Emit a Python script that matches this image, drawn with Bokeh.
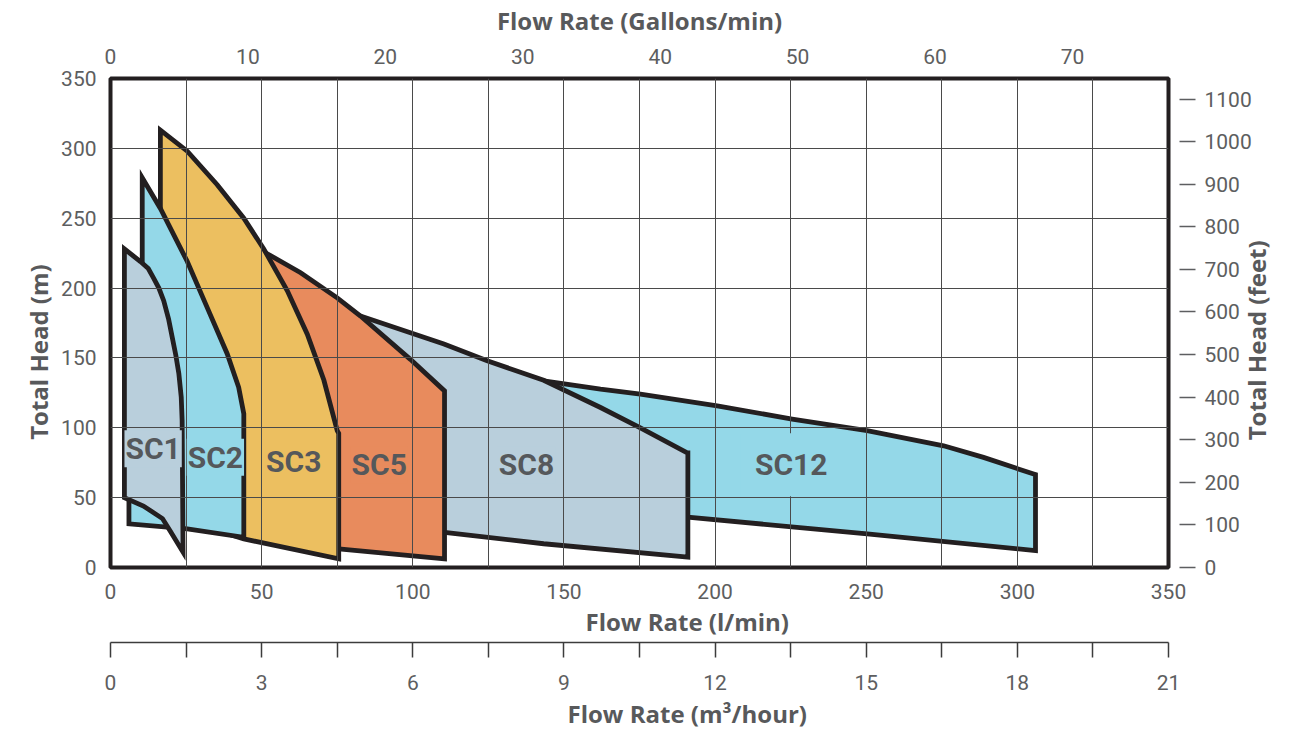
import math
from bokeh.plotting import figure
from bokeh.models import Range1d, LinearAxis, FixedTicker, Title, Label
from bokeh.embed import file_html
from bokeh.resources import INLINE

# ---------------- data ----------------
flow_ticks = [0, 50, 100, 150, 200, 250, 300, 350]
flow_minor = [25, 75, 125, 175, 225, 275, 325]
head_ticks = [0, 50, 100, 150, 200, 250, 300, 350]
gallon_ticks = [0, 10, 20, 30, 40, 50, 60, 70]
feet_ticks = [0, 100, 200, 300, 400, 500, 600, 700, 800, 900, 1000, 1100]
m3_ticks = [0, 3, 6, 9, 12, 15, 18, 21]
m3_minor = [1.5, 4.5, 7.5, 10.5, 13.5, 16.5, 19.5]

# pump envelopes, flow in l/min, head in m (drawn back to front)
sc12_flow = [143.3, 162.1, 175.3, 200.7, 225.5, 250.3, 275.6, 288.8, 305.4, 306.0, 306.0, 250.3, 191.0, 170.0, 150.0]
sc12_head = [133.6, 127.6, 124.1, 115.7, 106.2, 97.9, 87.1, 78.8, 66.9, 66.5, 12.1, 24.1, 36.0, 60.0, 115.0]

sc8_flow = [82.7, 110.3, 124.6, 143.3, 162.1, 175.3, 190.8, 191.0, 191.0, 143.3, 110.5, 95.0, 85.0, 80.0]
sc8_head = [180.0, 160.0, 148.0, 134.0, 114.5, 100.0, 82.0, 82.0, 7.4, 17.0, 25.2, 30.0, 100.0, 178.0]

sc5_flow = [50.7, 62.9, 75.0, 82.7, 99.2, 110.5, 110.5, 75.5, 60.0, 50.0, 45.0]
sc5_head = [226.0, 211.0, 193.0, 180.0, 149.0, 126.4, 6.2, 13.4, 15.0, 100.0, 220.0]

sc3_flow = [16.5, 25.4, 35.3, 44.1, 50.7, 58.5, 65.1, 70.6, 75.0, 75.5, 75.5, 44.1, 30.0, 30.0, 16.5]
sc3_head = [313.0, 298.0, 274.0, 250.0, 228.0, 198.0, 167.0, 134.0, 98.0, 96.0, 6.2, 20.5, 30.0, 180.0, 250.0]

sc2_flow = [10.5, 16.5, 25.4, 32.0, 38.6, 42.4, 44.1, 44.1, 25.4, 6.1, 6.1, 10.5]
sc2_head = [279.0, 257.0, 219.0, 186.0, 153.0, 129.0, 110.0, 21.6, 27.6, 31.2, 150.0, 210.0]

sc1_flow = [4.6, 9.9, 12.5, 14.3, 16.0, 17.6, 19.2, 20.4, 21.6, 22.6, 23.4, 23.7, 24.0, 19.8, 17.2, 10.9, 4.6]
sc1_head = [228.0, 219.0, 214.0, 207.0, 200.0, 191.0, 178.0, 165.0, 152.0, 139.0, 122.0, 105.0, 11.0, 26.0, 35.0, 44.0, 50.0]

pump_names = ["SC12", "SC8", "SC5", "SC3", "SC2", "SC1"]
pump_flows = [sc12_flow, sc8_flow, sc5_flow, sc3_flow, sc2_flow, sc1_flow]
pump_heads = [sc12_head, sc8_head, sc5_head, sc3_head, sc2_head, sc1_head]
pump_colors = ["#94d8e8", "#b9cfdc", "#e88b5d", "#ecbf60", "#94d8e8", "#b9cfdc"]

label_flow = [225.2, 137.6, 88.9, 60.6, 34.7, 14.1]
label_head = [73.6, 73.6, 73.6, 75.8, 79.0, 85.0]

# where the side titles sit along the head axis (m)
left_title_top_head = 217
right_title_start_head = 91

LITRES_PER_GALLON = 4.54609
METRES_PER_FOOT = 0.3048
LPM_PER_M3H = 1000.0 / 60.0

# ---------------- styles ----------------
FONT = "Roboto"
TFONT = "Open Sans"
TICK_COLOR = "#5d5e60"
TITLE_COLOR = "#58595b"
TICK_SIZE = "21px"
TITLE_SIZE = "24px"
OUTLINE = "#231f20"

p = figure(width=1293, height=733, output_backend="svg", toolbar_location=None,
           x_range=Range1d(0, 350), y_range=Range1d(0, 350),
           min_border_left=110, min_border_right=125, min_border_top=77, min_border_bottom=166,
           background_fill_color="white", border_fill_color="white")
p.extra_x_ranges = {"gal": Range1d(0, 350 / LITRES_PER_GALLON),
                    "m3": Range1d(0, 350 / LPM_PER_M3H)}
p.extra_y_ranges = {"feet": Range1d(0, 350 / METRES_PER_FOOT)}

p.outline_line_color = OUTLINE
p.outline_line_width = 4

def style_labels(ax):
    ax.major_label_text_font = FONT
    ax.major_label_text_font_size = TICK_SIZE
    ax.major_label_text_color = TICK_COLOR
    ax.axis_label_text_font = TFONT
    ax.axis_label_text_font_size = TITLE_SIZE
    ax.axis_label_text_font_style = "bold"
    ax.axis_label_text_color = TITLE_COLOR

def no_ticks(ax):
    ax.axis_line_color = None
    ax.major_tick_line_color = None
    ax.minor_tick_line_color = None
    ax.major_tick_out = 0
    ax.major_tick_in = 0
    ax.minor_tick_out = 0
    ax.minor_tick_in = 0

def title_axis(text, at, standoff, baseline):
    # an axis whose single rotated tick label is the side title
    ax = LinearAxis(ticker=FixedTicker(ticks=[at]))
    no_ticks(ax)
    ax.major_label_overrides = {at: text}
    ax.major_label_orientation = math.pi / 2
    ax.major_label_text_font = TFONT
    ax.major_label_text_font_size = TITLE_SIZE
    ax.major_label_text_font_style = "bold"
    ax.major_label_text_color = TITLE_COLOR
    ax.major_label_text_baseline = baseline
    ax.major_label_text_line_height = 0.8
    ax.major_label_standoff = standoff
    return ax

# main x axis (l/min)
xa = p.xaxis[0]
xa.ticker = FixedTicker(ticks=flow_ticks, minor_ticks=flow_minor)
style_labels(xa)
no_ticks(xa)
xa.major_label_standoff = 16

# main y axis (m)
ya = p.yaxis[0]
ya.ticker = FixedTicker(ticks=head_ticks)
style_labels(ya)
no_ticks(ya)
ya.major_label_standoff = 14
p.add_layout(title_axis("Total Head (m)", left_title_top_head, 20, "bottom"), "left")

# grid
p.xgrid.ticker = xa.ticker
p.xgrid.grid_line_color = "#4a4a4a"
p.xgrid.grid_line_width = 1
p.xgrid.minor_grid_line_color = "#4a4a4a"
p.xgrid.minor_grid_line_width = 1
p.ygrid.grid_line_color = "#4a4a4a"
p.ygrid.grid_line_width = 1
p.xgrid.level = "underlay"
p.ygrid.level = "underlay"

# top axis (gallons/min)
top = LinearAxis(x_range_name="gal", ticker=FixedTicker(ticks=gallon_ticks),
                 axis_label="Flow Rate (Gallons/min)")
style_labels(top)
no_ticks(top)
top.major_label_standoff = 15
top.axis_label_standoff = 9
p.add_layout(top, "above")

# right axis (feet)
right = LinearAxis(y_range_name="feet", ticker=FixedTicker(ticks=feet_ticks))
style_labels(right)
right.axis_line_color = None
right.major_tick_line_color = TICK_COLOR
right.major_tick_line_width = 1.5
right.major_tick_in = -11
right.major_tick_out = 27
right.minor_tick_line_color = None
right.minor_tick_in = 0
right.minor_tick_out = 0
right.major_label_standoff = 9
p.add_layout(right, "right")
p.add_layout(title_axis("Total Head (feet)", right_title_start_head, 2, "top"), "right")

# title of the l/min axis
t1 = Title(text="Flow Rate (l/min)", align="left", offset=475, vertical_align="top",
           standoff=6, text_font=TFONT, text_font_size=TITLE_SIZE,
           text_font_style="bold", text_color=TITLE_COLOR)
p.add_layout(t1, "below")

# m3/hour axis
m3 = LinearAxis(x_range_name="m3", ticker=FixedTicker(ticks=m3_ticks, minor_ticks=m3_minor))
style_labels(m3)
m3.axis_line_color = "#3c3c3c"
m3.axis_line_width = 1.5
m3.major_tick_line_color = "#3c3c3c"
m3.major_tick_line_width = 1.5
m3.minor_tick_line_color = "#3c3c3c"
m3.minor_tick_line_width = 1.5
m3.major_tick_in = 0
m3.major_tick_out = 15
m3.minor_tick_in = 0
m3.minor_tick_out = 15
m3.major_label_standoff = 17
p.add_layout(m3, "below")

spacer = Title(text="\u00a0", text_font_size="1px", standoff=1)
p.add_layout(spacer, "below")

t2 = Title(text="Flow Rate (m\u00b3/hour)", align="left", offset=457, vertical_align="top",
           standoff=0, text_font=TFONT, text_font_size=TITLE_SIZE,
           text_font_style="bold", text_color=TITLE_COLOR)
p.add_layout(t2, "below")

# pump envelopes
for name, fx, hy, col in zip(pump_names, pump_flows, pump_heads, pump_colors):
    p.patch(fx, hy, fill_color=col, line_color=OUTLINE, line_width=4.8,
            line_join="miter", level="image")

for name, lx, ly, col in zip(pump_names, label_flow, label_head, pump_colors):
    pad = 14 if name == "SC12" else 1
    p.add_layout(Label(x=lx, y=ly, text=name, text_align="center", text_baseline="middle",
                       text_font=FONT, text_font_size="30px", text_font_style="bold",
                       text_color="#55585b", background_fill_color=col, padding=pad))

open("out.html", "w").write(file_html(p, INLINE))
